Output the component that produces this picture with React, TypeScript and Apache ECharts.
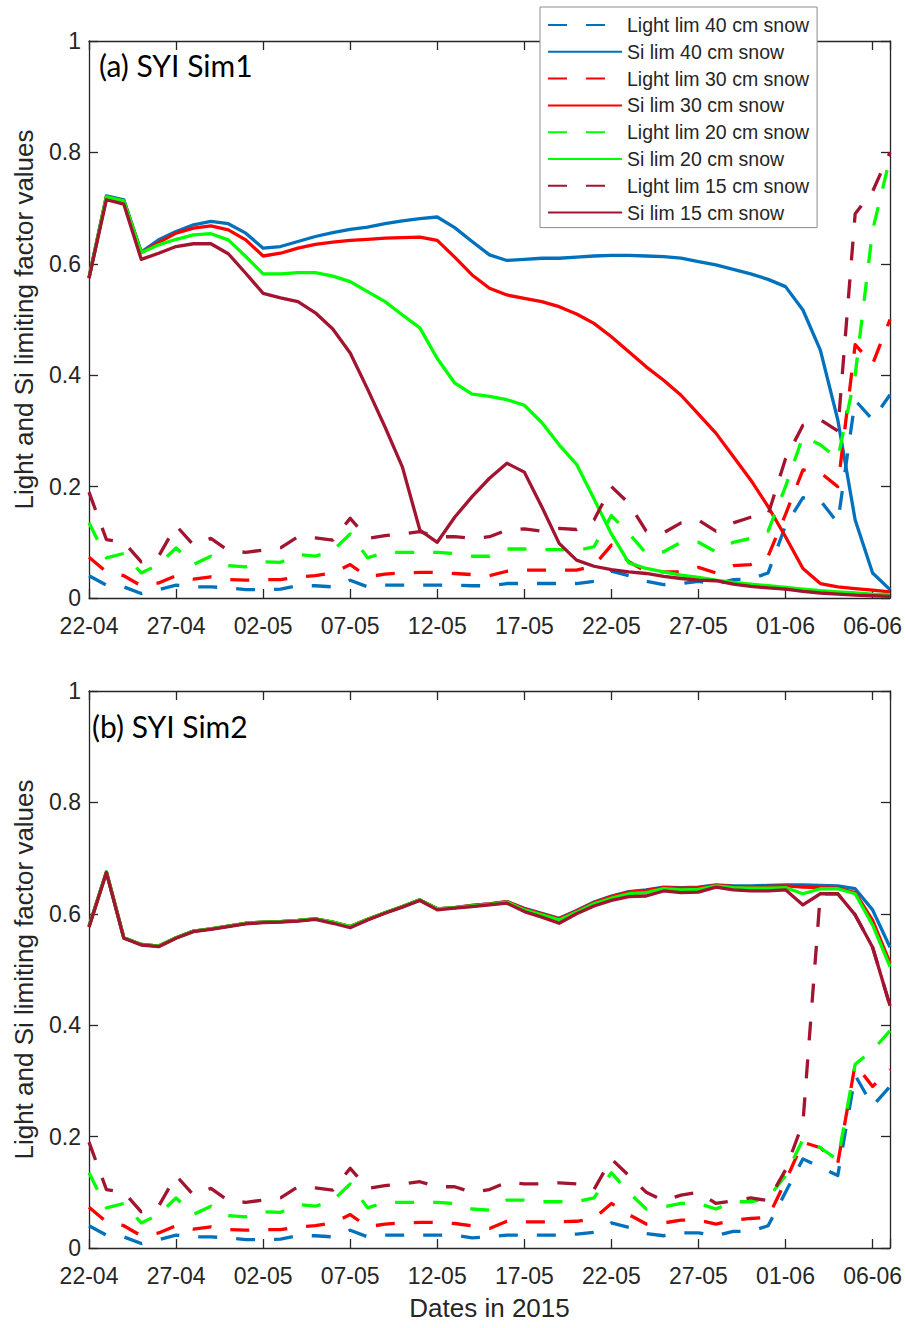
import React, { useEffect, useRef } from "react";
import * as echarts from "echarts";

// ---------- axis / legend text ----------
const X_TICK_LABELS = ["22-04", "27-04", "02-05", "07-05", "12-05", "17-05", "22-05", "27-05", "01-06", "06-06"];
const X_MAX_DAY = 46;
const X_TICK_STEP = 5;
const X_AXIS_TITLE = "Dates in 2015";
const Y_AXIS_TITLE = "Light and Si limiting factor values";
const PANEL_TITLES = ["(a) SYI Sim1", "(b) SYI Sim2"];

const SERIES_NAMES = [
  "Light lim 40 cm snow",
  "Si lim 40 cm snow",
  "Light lim 30 cm snow",
  "Si lim 30 cm snow",
  "Light lim 20 cm snow",
  "Si lim 20 cm snow",
  "Light lim 15 cm snow",
  "Si lim 15 cm snow",
];
const SERIES_COLORS = ["#0072BD", "#0072BD", "#FF0000", "#FF0000", "#00FF00", "#00FF00", "#A2142F", "#A2142F"];
const SERIES_DASHED = [true, false, true, false, true, false, true, false];

// ---------- panel (a) SYI Sim1, one value per day from 22-04 ----------
const LIGHT40_SIM1 = [0.040,0.023,0.020,0.008,0.015,0.023,0.020,0.020,0.018,0.015,0.015,0.016,0.022,0.022,0.020,0.032,0.020,0.023,0.023,0.023,0.023,0.023,0.022,0.022,0.026,0.026,0.026,0.026,0.026,0.030,0.048,0.040,0.030,0.024,0.026,0.030,0.025,0.033,0.034,0.045,0.130,0.180,0.175,0.135,0.355,0.320,0.365];
const SI40_SIM1 = [0.575,0.722,0.715,0.621,0.643,0.658,0.670,0.676,0.672,0.655,0.628,0.631,0.640,0.649,0.656,0.662,0.666,0.672,0.677,0.681,0.684,0.665,0.640,0.616,0.606,0.608,0.610,0.610,0.612,0.614,0.615,0.615,0.614,0.613,0.610,0.604,0.598,0.590,0.582,0.572,0.559,0.517,0.445,0.320,0.140,0.045,0.015];
const LIGHT30_SIM1 = [0.073,0.047,0.040,0.022,0.027,0.040,0.034,0.038,0.033,0.032,0.033,0.033,0.038,0.040,0.045,0.060,0.038,0.043,0.045,0.046,0.046,0.044,0.042,0.040,0.048,0.050,0.050,0.050,0.050,0.058,0.095,0.065,0.048,0.047,0.047,0.055,0.045,0.058,0.060,0.075,0.150,0.230,0.225,0.200,0.455,0.420,0.500];
const SI30_SIM1 = [0.575,0.720,0.713,0.620,0.638,0.655,0.664,0.668,0.661,0.643,0.614,0.619,0.628,0.635,0.639,0.642,0.644,0.646,0.647,0.648,0.642,0.612,0.580,0.556,0.544,0.538,0.532,0.523,0.510,0.493,0.469,0.442,0.415,0.391,0.364,0.330,0.296,0.254,0.212,0.164,0.110,0.053,0.026,0.020,0.017,0.014,0.011];
const LIGHT20_SIM1 = [0.135,0.072,0.080,0.045,0.060,0.090,0.060,0.075,0.058,0.056,0.065,0.064,0.078,0.075,0.085,0.115,0.072,0.082,0.082,0.082,0.082,0.080,0.075,0.075,0.088,0.088,0.087,0.087,0.085,0.092,0.148,0.116,0.080,0.083,0.100,0.100,0.083,0.100,0.107,0.120,0.200,0.290,0.275,0.250,0.400,0.660,0.790];
const SI20_SIM1 = [0.575,0.720,0.713,0.620,0.634,0.644,0.652,0.654,0.643,0.613,0.582,0.582,0.584,0.584,0.578,0.568,0.550,0.532,0.508,0.485,0.430,0.386,0.366,0.362,0.356,0.346,0.315,0.275,0.240,0.178,0.115,0.063,0.053,0.047,0.041,0.037,0.032,0.028,0.025,0.022,0.019,0.016,0.013,0.011,0.009,0.007,0.006];
const LIGHT15_SIM1 = [0.190,0.105,0.100,0.065,0.075,0.130,0.095,0.107,0.085,0.082,0.086,0.090,0.110,0.108,0.104,0.143,0.107,0.112,0.115,0.119,0.110,0.110,0.107,0.110,0.122,0.124,0.120,0.125,0.123,0.140,0.200,0.170,0.120,0.117,0.135,0.140,0.120,0.135,0.145,0.150,0.250,0.310,0.320,0.300,0.690,0.730,0.800];
const SI15_SIM1 = [0.574,0.715,0.707,0.608,0.619,0.631,0.636,0.636,0.618,0.583,0.547,0.539,0.532,0.512,0.483,0.440,0.375,0.307,0.235,0.122,0.100,0.145,0.182,0.215,0.242,0.226,0.164,0.098,0.068,0.057,0.051,0.047,0.044,0.039,0.035,0.032,0.031,0.025,0.021,0.018,0.016,0.012,0.009,0.007,0.005,0.004,0.003];

// ---------- panel (b) SYI Sim2 ----------
const LIGHT40_SIM2 = [0.040,0.023,0.020,0.008,0.015,0.023,0.020,0.020,0.018,0.015,0.015,0.016,0.022,0.022,0.020,0.032,0.020,0.023,0.023,0.023,0.023,0.023,0.018,0.020,0.023,0.023,0.023,0.023,0.025,0.028,0.045,0.037,0.026,0.022,0.027,0.027,0.022,0.030,0.030,0.040,0.100,0.160,0.145,0.130,0.310,0.255,0.290];
const SI40_SIM2 = [0.577,0.675,0.557,0.545,0.542,0.557,0.569,0.573,0.578,0.583,0.585,0.586,0.588,0.591,0.585,0.577,0.590,0.602,0.613,0.625,0.609,0.611,0.615,0.618,0.622,0.610,0.601,0.592,0.606,0.621,0.632,0.640,0.643,0.648,0.647,0.648,0.652,0.650,0.650,0.651,0.652,0.652,0.651,0.650,0.645,0.607,0.540];
const LIGHT30_SIM2 = [0.073,0.047,0.040,0.022,0.027,0.040,0.034,0.038,0.033,0.032,0.033,0.033,0.038,0.040,0.045,0.060,0.038,0.043,0.045,0.046,0.046,0.044,0.040,0.035,0.048,0.047,0.047,0.047,0.048,0.053,0.080,0.060,0.043,0.045,0.050,0.050,0.043,0.050,0.053,0.055,0.120,0.190,0.180,0.152,0.330,0.290,0.320];
const SI30_SIM2 = [0.577,0.675,0.557,0.545,0.542,0.557,0.569,0.573,0.578,0.583,0.585,0.586,0.588,0.591,0.585,0.577,0.590,0.602,0.613,0.625,0.609,0.611,0.615,0.618,0.622,0.609,0.600,0.591,0.605,0.620,0.631,0.639,0.642,0.647,0.646,0.647,0.651,0.649,0.648,0.649,0.650,0.648,0.647,0.646,0.638,0.588,0.512];
const LIGHT20_SIM2 = [0.135,0.072,0.080,0.045,0.060,0.090,0.060,0.075,0.058,0.056,0.065,0.064,0.078,0.075,0.085,0.115,0.072,0.082,0.082,0.082,0.082,0.080,0.070,0.068,0.086,0.086,0.083,0.083,0.083,0.090,0.135,0.100,0.070,0.074,0.080,0.080,0.070,0.083,0.083,0.090,0.130,0.195,0.180,0.158,0.330,0.355,0.390];
const SI20_SIM2 = [0.577,0.675,0.557,0.545,0.542,0.557,0.569,0.573,0.578,0.583,0.585,0.586,0.588,0.591,0.585,0.577,0.590,0.602,0.613,0.625,0.609,0.611,0.614,0.617,0.621,0.607,0.598,0.589,0.603,0.618,0.628,0.636,0.638,0.645,0.643,0.644,0.650,0.647,0.646,0.646,0.647,0.636,0.645,0.645,0.636,0.580,0.505];
const LIGHT15_SIM2 = [0.190,0.105,0.100,0.065,0.075,0.130,0.095,0.107,0.085,0.082,0.086,0.090,0.110,0.108,0.104,0.143,0.107,0.112,0.115,0.119,0.110,0.110,0.100,0.105,0.118,0.115,0.115,0.117,0.115,0.105,0.160,0.130,0.100,0.085,0.095,0.100,0.080,0.085,0.090,0.085,0.140,0.225,0.636,0.636,0.598,0.540,0.435];
const SI15_SIM2 = [0.576,0.674,0.556,0.544,0.541,0.556,0.568,0.572,0.577,0.582,0.584,0.585,0.587,0.590,0.583,0.575,0.589,0.601,0.612,0.624,0.607,0.610,0.613,0.616,0.619,0.604,0.594,0.583,0.600,0.614,0.624,0.631,0.632,0.641,0.638,0.639,0.648,0.643,0.641,0.641,0.643,0.616,0.636,0.636,0.598,0.540,0.435];

const PANEL_DATA = [
  [LIGHT40_SIM1, SI40_SIM1, LIGHT30_SIM1, SI30_SIM1, LIGHT20_SIM1, SI20_SIM1, LIGHT15_SIM1, SI15_SIM1],
  [LIGHT40_SIM2, SI40_SIM2, LIGHT30_SIM2, SI30_SIM2, LIGHT20_SIM2, SI20_SIM2, LIGHT15_SIM2, SI15_SIM2],
];

// ---------- styling ----------
const AX = "#262626";
const FONT = "'Liberation Sans', Arial, sans-serif";
const GRID_TOPS = [41, 691];
const GRID_H = 557;
const DASH = [19, 19];
const LINE_W = 3.3;

function buildOption(): any {
  const grids = GRID_TOPS.map((top) => ({ left: 89, right: 15, top, height: GRID_H, containLabel: false }));

  const axisLine = { show: true, onZero: false, lineStyle: { color: AX, width: 1.3 } };
  const axisTick = { show: true, inside: true, length: 9, lineStyle: { color: AX, width: 1.3 } };

  const xAxis: any[] = [];
  const yAxis: any[] = [];
  GRID_TOPS.forEach((_, p) => {
    xAxis.push({
      type: "value",
      gridIndex: p,
      min: 0,
      max: X_MAX_DAY,
      interval: X_TICK_STEP,
      position: "bottom",
      axisLine,
      axisTick,
      splitLine: { show: false },
      axisLabel: {
        color: AX,
        fontSize: 23,
        fontFamily: FONT,
        margin: 16,
        formatter: (v: number) => (v % X_TICK_STEP === 0 ? X_TICK_LABELS[v / X_TICK_STEP] ?? "" : ""),
      },
      name: p === 1 ? X_AXIS_TITLE : "",
      nameLocation: "middle",
      nameGap: 47,
      nameTextStyle: { color: AX, fontSize: 26, fontFamily: FONT },
    });
    xAxis.push({
      type: "value",
      gridIndex: p,
      min: 0,
      max: X_MAX_DAY,
      interval: X_TICK_STEP,
      position: "top",
      axisLine,
      axisTick,
      splitLine: { show: false },
      axisLabel: { show: false },
    });
    yAxis.push({
      type: "value",
      gridIndex: p,
      min: 0,
      max: 1,
      interval: 0.2,
      position: "left",
      axisLine,
      axisTick,
      splitLine: { show: false },
      axisLabel: {
        color: AX,
        fontSize: 23,
        fontFamily: FONT,
        margin: 8,
        formatter: (v: number) => String(Number(v.toFixed(1))),
      },
      name: Y_AXIS_TITLE,
      nameLocation: "middle",
      nameRotate: 90,
      nameGap: 52,
      nameTextStyle: { color: AX, fontSize: 26, fontFamily: FONT },
    });
    yAxis.push({
      type: "value",
      gridIndex: p,
      min: 0,
      max: 1,
      interval: 0.2,
      position: "right",
      axisLine,
      axisTick,
      splitLine: { show: false },
      axisLabel: { show: false },
    });
  });

  const series: any[] = [];
  PANEL_DATA.forEach((arrays, p) => {
    arrays.forEach((arr, i) => {
      series.push({
        type: "line",
        name: SERIES_NAMES[i],
        xAxisIndex: p * 2,
        yAxisIndex: p * 2,
        data: arr.map((v, d) => [d, v]),
        symbol: "none",
        showSymbol: false,
        smooth: false,
        clip: true,
        silent: true,
        lineStyle: {
          color: SERIES_COLORS[i],
          width: LINE_W,
          type: SERIES_DASHED[i] ? DASH : "solid",
          cap: "butt",
          join: "round",
        },
        itemStyle: { color: SERIES_COLORS[i] },
        emphasis: { disabled: true },
      });
    });
  });

  return {
    animation: false,
    backgroundColor: "#ffffff",
    grid: grids,
    xAxis,
    yAxis,
    series,
    legend: {
      orient: "vertical",
      left: 540,
      top: 7,
      itemWidth: 74,
      itemHeight: 14,
      itemGap: 6.8,
      padding: [8, 8, 5, 7],
      backgroundColor: "#ffffff",
      borderColor: "#8c8c8c",
      borderWidth: 1,
      selectedMode: false,
      itemStyle: { opacity: 0 },
      textStyle: { color: AX, fontSize: 19.5, fontFamily: FONT, lineHeight: 20 },
      data: SERIES_NAMES,
      z: 10,
    },
    graphic: [
      {
        type: "text",
        x: 99,
        y: 65,
        z: 20,
        style: {
          text: PANEL_TITLES[0],
          fontSize: 30,
          fontFamily: "Lato, 'Open Sans', sans-serif",
          fill: "#000",
          align: "left",
          verticalAlign: "middle",
        },
      },
      {
        type: "text",
        x: 92,
        y: 726,
        z: 20,
        style: {
          text: PANEL_TITLES[1],
          fontSize: 30,
          fontFamily: "Lato, 'Open Sans', sans-serif",
          fill: "#000",
          align: "left",
          verticalAlign: "middle",
        },
      },
    ],
  };
}

export default function App() {
  const ref = useRef<HTMLDivElement>(null);
  useEffect(() => {
    if (!ref.current) return;
    const chart = echarts.init(ref.current, undefined, { renderer: "svg" });
    chart.setOption(buildOption());
    return () => chart.dispose();
  }, []);
  return (
    <div
      ref={ref}
      style={{ position: "absolute", left: 0, top: 0, width: 905, height: 1328, background: "#fff" }}
    />
  );
}
